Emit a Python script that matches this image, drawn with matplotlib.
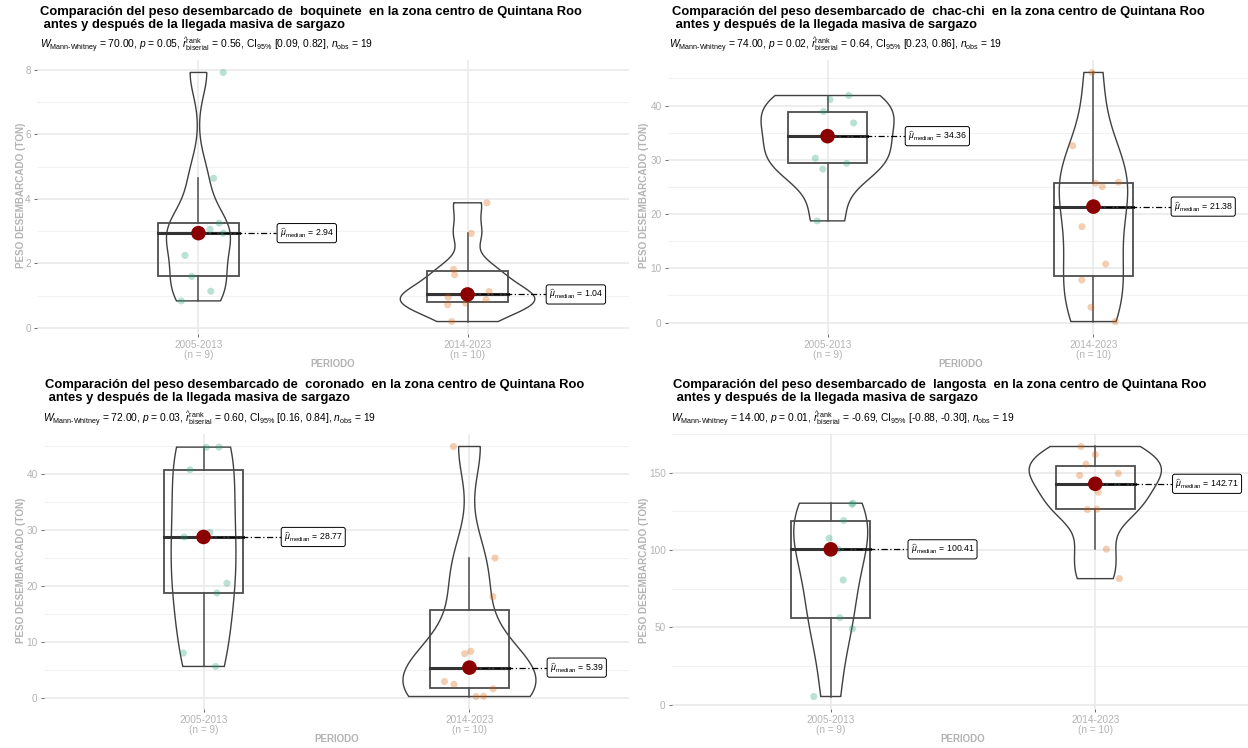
import numpy as np
import matplotlib
matplotlib.use("Agg")
import matplotlib.pyplot as plt
from matplotlib.patches import Polygon, Rectangle

plt.rcParams['font.family'] = ['Liberation Sans', 'DejaVu Sans']
plt.rcParams['mathtext.fontset'] = 'custom'
plt.rcParams['mathtext.rm'] = 'Liberation Sans'
plt.rcParams['mathtext.it'] = 'Liberation Sans:italic'
plt.rcParams['mathtext.bf'] = 'Liberation Sans:bold'

# ---------------- data ----------------
groups = ["2005-2013", "2014-2023"]
species = ["boquinete", "chac-chi", "coronado", "langosta"]

boquinete_2005 = [7.92, 4.64, 3.25, 3.06, 2.94, 2.25, 1.60, 1.14, 0.84]
boquinete_2014 = [3.88, 2.93, 1.82, 1.65, 1.13, 0.95, 0.88, 0.77, 0.72, 0.20]
chacchi_2005 = [41.85, 41.10, 38.90, 36.80, 34.36, 30.30, 29.35, 28.30, 18.75]
chacchi_2014 = [46.10, 32.60, 25.86, 25.70, 25.07, 17.69, 10.80, 7.85, 2.83, 0.20]
coronado_2005 = [44.80, 44.85, 40.80, 29.60, 28.77, 20.50, 18.75, 8.00, 5.60]
coronado_2014 = [44.96, 25.00, 18.10, 8.30, 7.88, 2.90, 2.39, 1.60, 0.22, 0.25]
langosta_2005 = [130.20, 129.50, 119.00, 107.60, 100.41, 80.60, 56.30, 49.10, 5.40]
langosta_2014 = [166.80, 161.60, 155.40, 149.40, 148.10, 137.32, 126.10, 126.30, 100.50, 81.50]

# horizontal jitter offsets of the points (category units)
jit_boquinete_2005 = [0.092, 0.056, 0.077, 0.043, 0.092, -0.050, -0.025, 0.046, -0.064]
jit_boquinete_2014 = [0.072, 0.014, -0.052, -0.048, 0.080, -0.072, 0.069, -0.007, -0.074, -0.059]
jit_chacchi_2005 = [0.080, 0.009, -0.015, 0.098, 0.010, -0.046, 0.072, -0.018, -0.039]
jit_chacchi_2014 = [-0.006, -0.078, 0.094, 0.008, 0.033, -0.043, 0.046, -0.044, -0.009, 0.082]
jit_coronado_2005 = [0.010, 0.058, -0.051, 0.024, -0.073, 0.088, 0.050, -0.076, 0.045]
jit_coronado_2014 = [-0.060, 0.096, 0.088, 0.005, -0.018, -0.094, -0.058, 0.089, 0.025, 0.053]
jit_langosta_2005 = [0.084, 0.080, 0.049, -0.006, 0.028, 0.047, 0.034, 0.082, -0.064]
jit_langosta_2014 = [-0.054, 0.000, -0.035, 0.087, -0.059, 0.011, -0.030, 0.006, 0.042, 0.091]

W_stat = ["70.00", "74.00", "72.00", "14.00"]
p_val = ["0.05", "0.02", "0.03", "0.01"]
r_rank = ["0.56", "0.64", "0.60", "-0.69"]
ci_low = ["0.09", "0.23", "0.16", "-0.88"]
ci_high = ["0.82", "0.86", "0.84", "-0.30"]
n_obs = ["19", "19", "19", "19"]

y_major = [[0, 2, 4, 6, 8], [0, 10, 20, 30, 40], [0, 10, 20, 30, 40], [0, 50, 100, 150]]

panel_data = [(boquinete_2005, boquinete_2014), (chacchi_2005, chacchi_2014),
              (coronado_2005, coronado_2014), (langosta_2005, langosta_2014)]
panel_jit = [(jit_boquinete_2005, jit_boquinete_2014), (jit_chacchi_2005, jit_chacchi_2014),
             (jit_coronado_2005, jit_coronado_2014), (jit_langosta_2005, jit_langosta_2014)]

# ---------------- layout (pixels) ----------------
W, H = 1248, 748
fig = plt.figure(figsize=(W / 100, H / 100), dpi=100)

panels_px = [(37, 60, 629, 334), (668, 60, 1253, 334),
             (44, 434, 629, 709), (672, 434, 1254, 709)]
title_px = [(40, 6), (672, 6), (45, 379), (673, 379)]
sub_px = [(40, 45), (669, 45), (43, 419), (671, 419)]
ylab_px = [(21, 195), (644, 195), (21, 570), (644, 570)]

col_pts = ["#1B9E77", "#D95F02"]
grey_txt = "#b3b3b3"


def fx(x):
    return x / W


def fy(y):
    return 1 - y / H


def bw_nrd0(x):
    x = np.asarray(x, float)
    hi = np.std(x, ddof=1)
    q75, q25 = np.percentile(x, [75, 25])
    lo = min(hi, (q75 - q25) / 1.34)
    if lo == 0:
        lo = hi if hi else 1.0
    return 0.9 * lo * len(x) ** (-0.2)


def kde(x, grid):
    x = np.asarray(x, float)
    bw = bw_nrd0(x)
    z = (grid[:, None] - x[None, :]) / bw
    return np.exp(-0.5 * z ** 2).sum(axis=1) / (len(x) * bw * np.sqrt(2 * np.pi))


for i in range(4):
    l, t, r, b = panels_px[i]
    ax = fig.add_axes([fx(l), fy(b), (r - l) / W, (b - t) / H])
    d1, d2 = panel_data[i]
    allv = np.array(d1 + d2)
    lo, hi = allv.min(), allv.max()
    pad = 0.05 * (hi - lo)
    ax.set_ylim(lo - pad, hi + pad)
    ax.set_xlim(0.4, 2.6)

    # grid
    yt = y_major[i]
    step = yt[1] - yt[0]
    minors = np.arange(yt[0] - step / 2, hi + pad + step, step)
    for m in minors:
        ax.axhline(m, color="#f2f2f2", lw=0.8, zorder=0)
    for m in yt:
        ax.axhline(m, color="#e8e8e8", lw=1.1, zorder=0)
    for xc in (1, 2):
        ax.axvline(xc, color="#e8e8e8", lw=1.1, zorder=0)

    # violins
    grids, dens = [], []
    for d in (d1, d2):
        g = np.linspace(min(d), max(d), 512)
        grids.append(g)
        dens.append(kde(d, g))
    dmax = max(dd.max() for dd in dens)
    for k, (g, dd) in enumerate(zip(grids, dens)):
        xc = k + 1
        w = dd / dmax * 0.5 / 2
        xs = np.concatenate([xc - w, (xc + w)[::-1]])
        ys = np.concatenate([g, g[::-1]])
        ax.add_patch(Polygon(np.column_stack([xs, ys]), closed=True, fill=False,
                             edgecolor="#404040", lw=1.0, zorder=2))

    # boxplots
    for k, d in enumerate((d1, d2)):
        xc = k + 1
        arr = np.asarray(d)
        q1, med, q3 = np.percentile(arr, [25, 50, 75])
        iqr = q3 - q1
        up = arr[arr <= q3 + 1.5 * iqr].max()
        dn = arr[arr >= q1 - 1.5 * iqr].min()
        bw_ = 0.3
        ax.add_patch(Rectangle((xc - bw_ / 2, q1), bw_, q3 - q1, fill=False,
                               edgecolor="#4d4d4d", lw=1.3, zorder=3))
        ax.plot([xc, xc], [q3, up], color="#4d4d4d", lw=1.1, zorder=3)
        ax.plot([xc, xc], [dn, q1], color="#4d4d4d", lw=1.1, zorder=3)
        ax.plot([xc - bw_ / 2, xc + bw_ / 2], [med, med], color="#333333", lw=2.2, zorder=3)

    # points
    for k, (d, jt) in enumerate(zip((d1, d2), panel_jit[i])):
        xs = np.array(jt) + k + 1
        ax.scatter(xs, d, s=26, color=col_pts[k], alpha=0.3, edgecolors="none", zorder=4)

    # medians + labels
    for k, d in enumerate((d1, d2)):
        xc = k + 1
        med = np.median(d)
        ax.scatter([xc], [med], s=110, color="#8B0000", zorder=6, edgecolors="none")
        lab_x = xc + 0.29
        ax.plot([xc, lab_x], [med, med], color="black", lw=0.9,
                linestyle=(0, (5, 2, 1, 2)), zorder=5)
        ax.text(lab_x + 0.012, med, r"$\widehat{\mu}_{\mathrm{median}}$ = " + f"{med:.2f}",
                fontsize=6.3, va="center", ha="left", zorder=7,
                bbox=dict(boxstyle="round,pad=0.3,rounding_size=0.25", fc="white",
                          ec="black", lw=0.7))

    # axes styling
    for s in ax.spines.values():
        s.set_visible(False)
    ax.set_yticks(yt)
    ax.set_yticklabels([str(v) for v in yt])
    ax.set_xticks([1, 2])
    n1, n2 = len(d1), len(d2)
    ax.set_xticklabels([f"{groups[0]}\n(n = {n1})", f"{groups[1]}\n(n = {n2})"])
    ax.tick_params(axis="both", colors="#555555", labelcolor=grey_txt, labelsize=7.2,
                   length=2.5, width=0.6, pad=2)
    ax.tick_params(axis="x", pad=1.5)
    for lbl in ax.get_xticklabels():
        lbl.set_linespacing(1.05)
    ax.set_facecolor("none")

    # text
    tx, ty = title_px[i]
    fig.text(fx(tx), fy(ty),
             f"Comparación del peso desembarcado de  {species[i]}  en la zona centro de Quintana Roo\n"
             " antes y después de la llegada masiva de sargazo",
             fontsize=9.4, fontweight="bold", ha="left", va="top", linespacing=1.15)
    sx, sy = sub_px[i]
    sub = (r"$W_{\mathrm{Mann\text{-}Whitney}}$ = " + W_stat[i] +
           r", $p$ = " + p_val[i] +
           r", $\widehat{r}_{\mathrm{biserial}}^{\mathrm{rank}}$ = " + r_rank[i] +
           r", CI$_{95\%}$ [" + ci_low[i] + ", " + ci_high[i] + "]" +
           r", $n_{\mathrm{obs}}$ = " + n_obs[i])
    fig.text(fx(sx), fy(sy), sub, fontsize=7.4, ha="left", va="center")
    lx, ly = ylab_px[i]
    fig.text(fx(lx), fy(ly), "PESO DESEMBARCADO (TON)", rotation=90, fontsize=7.1,
             fontweight="bold", color=grey_txt, ha="center", va="center")
    fig.text(fx((l + r) / 2), fy(b + 30), "PERIODO", fontsize=7.0, fontweight="bold",
             color=grey_txt, ha="center", va="center")

fig.savefig("out.png", dpi=100)
